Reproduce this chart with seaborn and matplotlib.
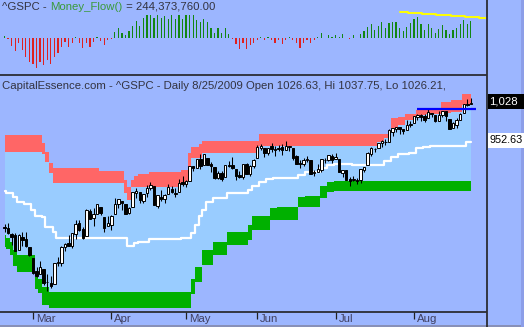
import numpy as np
import pandas as pd
import matplotlib
matplotlib.use("Agg")
import matplotlib.pyplot as plt
import matplotlib.transforms as mtransforms
from matplotlib.lines import Line2D
from matplotlib.patches import Rectangle
import seaborn as sns

# ---------------- data ----------------
holidays = ["2009-04-10", "2009-05-25", "2009-07-03"]
dates = pd.bdate_range("2009-02-18", "2009-08-25").drop(pd.to_datetime(holidays))

opens = [789.17, 787.91, 775.87, 773.25, 744.69, 770.64, 765.76, 749.93, 729.57, 704.44,
         698.60, 708.27, 684.04, 680.76, 679.28, 719.59, 720.89, 751.97, 758.84, 753.88,
         776.01, 797.92, 784.58, 772.31, 820.60, 806.81, 814.06, 828.68, 809.07, 790.88,
         793.59, 814.53, 835.13, 839.75, 834.12, 816.76, 829.29, 855.33, 856.88, 839.44,
         854.54, 865.18, 868.27, 831.25, 847.26, 844.62, 853.91, 862.82, 854.48, 856.85,
         876.59, 872.74, 879.21, 906.10, 903.95, 919.58, 909.03, 922.99, 910.52, 905.40,
         884.24, 892.76, 886.07, 909.67, 908.62, 900.42, 888.68, 887.00, 909.95, 892.96,
         907.02, 923.26, 942.87, 942.51, 932.49, 945.67, 938.12, 940.35, 943.44, 939.04,
         943.44, 942.45, 925.60, 911.89, 910.86, 919.96, 918.13, 893.46, 896.31, 899.45,
         918.84, 919.86, 927.15, 920.82, 921.24, 894.27, 898.60, 881.90, 881.28, 880.03,
         879.57, 900.77, 910.15, 930.17, 940.56, 942.07, 951.97, 953.40, 954.07, 972.16,
         978.63, 981.48, 977.66, 976.01, 986.80, 990.22, 1001.41, 1005.41, 1004.06, 999.83,
         1008.89, 1005.77, 994.00, 1005.86, 1012.23, 998.18, 980.62, 986.88, 996.41, 1009.06,
         1026.59, 1026.63]
highs = [796.17, 797.58, 778.69, 777.85, 775.49, 780.12, 779.42, 751.27, 729.57, 711.67,
         724.12, 708.27, 699.09, 695.27, 719.60, 731.92, 752.63, 758.29, 774.53, 778.12,
         803.04, 803.24, 788.91, 823.37, 823.65, 826.78, 832.98, 828.68, 809.07, 810.48,
         813.62, 845.61, 842.50, 839.75, 834.12, 828.42, 856.91, 864.31, 856.88, 852.93,
         870.35, 875.63, 868.27, 850.09, 861.78, 852.87, 871.80, 868.83, 864.48, 882.06,
         888.70, 880.48, 907.85, 907.70, 920.28, 929.58, 930.17, 922.99, 915.57, 905.40,
         898.36, 896.97, 910.00, 916.39, 924.60, 900.42, 896.65, 911.76, 913.84, 909.45,
         920.02, 947.77, 949.38, 942.51, 942.47, 951.69, 946.33, 946.92, 949.77, 956.23,
         946.30, 942.45, 928.00, 918.44, 921.93, 927.09, 918.13, 898.69, 910.85, 921.42,
         922.00, 927.99, 930.01, 931.92, 921.24, 898.72, 898.60, 886.80, 887.86, 883.57,
         901.05, 905.84, 933.95, 943.96, 941.89, 951.62, 956.53, 959.83, 979.42, 979.79,
         982.49, 982.35, 977.76, 996.68, 993.18, 1003.61, 1007.12, 1006.64, 1008.00, 1018.00,
         1010.12, 1005.77, 1012.78, 1013.14, 1012.60, 998.18, 991.20, 999.61, 1008.92, 1027.59,
         1035.82, 1037.75]
lows = [780.43, 777.03, 754.25, 742.37, 744.69, 752.89, 751.75, 734.52, 699.70, 692.30,
        698.60, 677.93, 666.79, 672.88, 679.28, 713.85, 714.76, 742.46, 753.37, 749.93,
        765.64, 781.82, 766.20, 772.31, 805.48, 791.37, 814.06, 813.43, 779.81, 790.88,
        783.32, 814.53, 826.70, 822.79, 814.53, 814.84, 829.29, 845.35, 836.31, 835.58,
        847.04, 860.87, 832.39, 826.83, 840.57, 835.45, 853.91, 854.65, 847.12, 856.85,
        868.51, 866.10, 879.21, 897.34, 903.95, 901.36, 909.03, 908.68, 896.46, 882.80,
        882.52, 878.94, 886.07, 905.22, 901.37, 879.61, 883.75, 881.46, 891.87, 887.60,
        903.56, 923.26, 938.46, 923.85, 929.32, 934.13, 926.44, 936.15, 927.97, 939.04,
        935.66, 919.65, 911.60, 903.78, 907.94, 915.80, 893.04, 888.86, 896.31, 896.27,
        913.03, 916.18, 912.86, 920.82, 896.42, 886.36, 879.93, 869.32, 878.45, 872.81,
        875.32, 896.50, 910.15, 927.45, 934.65, 940.99, 943.22, 947.75, 953.27, 965.95,
        972.29, 969.35, 968.65, 976.01, 982.85, 990.22, 996.68, 994.31, 992.49, 999.83,
        1000.99, 992.40, 993.36, 1000.82, 994.60, 978.51, 980.62, 980.62, 996.39, 1009.06,
        1022.48, 1026.21]
closes = [788.42, 778.94, 770.05, 743.33, 773.14, 764.90, 752.83, 735.09, 700.82, 696.33,
          712.87, 682.55, 683.38, 676.53, 719.60, 721.36, 750.74, 756.55, 753.89, 778.12,
          794.35, 784.04, 768.54, 822.92, 806.12, 813.88, 832.86, 815.94, 787.53, 797.87,
          811.08, 834.38, 842.50, 835.48, 815.55, 825.16, 856.56, 858.73, 841.50, 852.06,
          865.30, 869.60, 832.39, 850.08, 843.55, 851.92, 866.23, 857.51, 855.16, 873.64,
          872.81, 877.52, 907.24, 903.80, 919.53, 907.39, 929.23, 909.24, 908.35, 883.92,
          893.07, 882.88, 909.71, 908.13, 903.47, 888.33, 887.00, 910.33, 893.06, 906.83,
          919.14, 942.87, 944.74, 931.76, 942.46, 940.09, 939.14, 942.43, 939.15, 944.89,
          946.21, 923.72, 911.97, 910.71, 918.37, 921.23, 893.04, 895.10, 900.94, 920.26,
          918.90, 927.23, 919.32, 923.33, 896.42, 898.72, 881.03, 879.56, 882.68, 879.13,
          901.05, 905.84, 932.68, 940.74, 940.38, 951.13, 954.58, 954.07, 976.29, 979.26,
          982.18, 979.62, 975.15, 986.75, 987.48, 1002.63, 1005.65, 1002.72, 997.08, 1010.48,
          1007.10, 994.35, 1005.81, 1012.73, 1004.09, 979.73, 989.67, 996.46, 1007.37, 1026.13,
          1025.57, 1028.12]

# Money flow (millions), one per trading day
money_flow = [33, -14, -108, -179, -71, -165, -259, -329, -362, -414,
              -329, -376, -306, -367, -259, -212, -118, -47, -118, -71,
              24, -71, -141, -61, -127, -47, 14, -38, -94, -24,
              -9, 94, 141, 80, 47, 108, 174, 244, 174, 282,
              329, 329, 282, 329, 282, 320, 273, 329, 273, 329,
              273, 329, 329, 329, 258, 226, 273, 226, 141, 80,
              141, 80, 141, 61, -5, -85, -150, -61, -150, -94,
              -61, -24, 14, -24, 14, -24, -61, -24, -80, -24,
              14, -24, -61, -132, -70, -24, -61, -24, 14, 70,
              5, 47, 14, 47, 14, 61, 9, -9, 47, 9,
              61, 103, 155, 202, 118, 174, 230, 146, 216, 230,
              230, 146, 103, 160, 216, 273, 301, 202, 118, 202,
              146, 75, 132, 188, 118, 61, 118, 146, 202, 258,
              202, 244]
money_flow_last = "244,373,760.00"

# Channel bands, as (value, number of days) runs
red_top_runs = [(967, 11), (952, 1), (935, 1), (913, 1), (903, 13), (898, 7), (880, 1), (867, 1),
                (880, 1), (888, 1), (892, 3), (896, 9), (900, 2), (932, 1), (944, 2), (949, 1),
                (955, 16), (969, 37), (999, 2), (1002, 2), (1007, 3), (1015, 3), (1018, 4),
                (1031, 3), (1034, 3), (1047, 3)]
red_bot_runs = [(935, 11), (930, 1), (915, 1), (893, 1), (874, 20), (855, 1), (842, 1), (866, 14),
                (870, 2), (906, 1), (922, 3), (932, 16), (946, 33), (954, 2), (961, 2), (980, 2),
                (986, 2), (996, 3), (1005, 3), (1007, 4), (1009, 3), (1012, 3), (1025, 3)]
green_top_runs = [(774, 1), (768, 1), (760, 1), (745, 1), (736, 5), (694, 1), (690, 1), (674, 2),
                  (665, 40), (690, 1), (713, 2), (745, 3), (761, 4), (780, 6), (794, 1), (810, 5),
                  (826, 2), (828, 6), (848, 2), (850, 4), (869, 2), (877, 2), (879, 39)]
green_bot_runs = [(752, 1), (748, 1), (735, 1), (715, 1), (703, 5), (670, 1), (662, 1), (639, 2),
                  (634, 40), (660, 1), (684, 2), (716, 3), (736, 4), (755, 6), (765, 1), (784, 5),
                  (803, 2), (804, 6), (829, 6), (845, 2), (858, 2), (859, 39)]
mid_runs = [(859, 1), (855, 2), (847, 1), (837, 2), (834, 2), (822, 1), (811, 2), (809, 1), (790, 2),
            (780, 1), (768, 20), (753, 2), (758, 1), (761, 3), (766, 9), (768, 3), (778, 1), (793, 1),
            (810, 1), (822, 1), (838, 2), (845, 4), (855, 6), (861, 1), (869, 2), (877, 2), (882, 2),
            (885, 7), (890, 2), (896, 4), (903, 2), (909, 2), (912, 5), (909, 9), (917, 2), (925, 2),
            (930, 3), (932, 2), (941, 2), (943, 2), (946, 10), (952.63, 2)]

# Yellow step line in the money-flow pane (bar index of each step, value in millions)
yellow_idx = [111.1, 113.4, 117.2, 121.2, 125.4, 129.4, 133.3, 135.3]
yellow_val = [367, 353, 338, 324, 310, 296, 282, 282]

# Blue horizontal level
blue_level = 1017
blue_from_idx, blue_to_idx = 116, 132.5

main_title = "CapitalEssence.com - ^GSPC - Daily 8/25/2009 Open 1026.63, Hi 1037.75, Lo 1026.21,"


def expand(runs):
    return np.repeat([v for v, n in runs], [n for v, n in runs]).astype(float)


red_top, red_bot = expand(red_top_runs), expand(red_bot_runs)
green_top, green_bot = expand(green_top_runs), expand(green_bot_runs)
mid_line = expand(mid_runs)

o, h, l, c = map(np.asarray, (opens, highs, lows, closes))
idx = np.arange(len(dates))
mf = np.asarray(money_flow, dtype=float)

# ---------------- style ----------------
BG = "#9CB6FF"
LIGHT = "#99CCFF"
RED_BAND = "#FF6666"
GREEN_BAND = "#00B000"
TXT = "#333340"

sns.set_style("white")
plt.rcParams["font.family"] = ["Liberation Sans", "DejaVu Sans"]
FS = 8.2

W, H = 524, 327
fig = plt.figure(figsize=(W / 100, H / 100), dpi=100)
fig.patch.set_facecolor(BG)

PLOT_R = 486
ax_top = fig.add_axes([0, 1 - 75 / H, PLOT_R / W, 75 / H])
ax = fig.add_axes([0, 1 - 312 / H, PLOT_R / W, 237 / H])
bar_px, first_px = 3.56, 4.5
xlim = (-first_px / bar_px, (PLOT_R - first_px) / bar_px)
for a in (ax_top, ax):
    a.set_facecolor(BG)
    for s in a.spines.values():
        s.set_visible(False)

# ---------------- main pane ----------------
ax.fill_between(idx, red_bot, green_top, step="mid", color=LIGHT, lw=0, zorder=1)
ax.fill_between(idx, red_bot, red_top, step="mid", color=RED_BAND, lw=0, zorder=2)
ax.fill_between(idx, green_bot, green_top, step="mid", color=GREEN_BAND, lw=0, zorder=2)
sns.lineplot(x=idx, y=mid_line, drawstyle="steps-mid", color="white", linewidth=1.6, ax=ax, zorder=3)

up = c >= o
ax.vlines(idx, l, h, color="black", linewidth=0.75, zorder=4)
ax.bar(idx, np.abs(c - o) + 0.6, bottom=np.minimum(o, c) - 0.3, width=0.68,
       color=np.where(up, "white", "black"), edgecolor="black", linewidth=0.7, zorder=5)
ax.hlines(blue_level, blue_from_idx, blue_to_idx, color="#0000FF", linewidth=1.6, zorder=6)

ax.set_xlim(*xlim)
ax.set_ylim(625.7, 1082.7)
ax.set_xlabel("")
ax.set_ylabel("")
ax.set_yticks([])

# month ticks
ser = pd.Series(idx, index=dates)
month_first = ser.groupby([dates.year, dates.month]).first()
month_idx = [i for i in month_first.values if i > 0]
month_lbl = [dates[i].strftime("%b") for i in month_idx]
ax.set_xticks(month_idx)
ax.set_xticklabels([])
ax.tick_params(axis="x", direction="out", length=5, width=0.9, color="#222222", bottom=True)
btrans = mtransforms.blended_transform_factory(ax.transData, ax.transAxes)
off = mtransforms.ScaledTranslation(3 / 100, 0, fig.dpi_scale_trans)
for i, lab in zip(month_idx, month_lbl):
    ax.text(i, -7.5 / 237, lab, transform=btrans + off, ha="left", va="center",
            fontsize=FS, color="#404060", clip_on=False)

ax.text(2 / PLOT_R, 1 - 11 / 237, main_title, transform=ax.transAxes, ha="left", va="center",
        fontsize=FS, color=TXT)

# ---------------- money flow pane ----------------
mf_df = pd.DataFrame({"idx": idx, "mf": mf, "sign": np.where(mf >= 0, "pos", "neg")})
sns.barplot(data=mf_df, x="idx", y="mf", hue="sign", palette={"pos": "#009900", "neg": "#FF0000"},
            native_scale=True, width=0.35, dodge=False, legend=False, errorbar=None,
            linewidth=0, ax=ax_top)
sns.lineplot(x=yellow_idx, y=yellow_val, drawstyle="steps-post", color="#FFFF00", linewidth=1.4,
             ax=ax_top)
ax_top.set_xlim(*xlim)
ax_top.set_ylim(-517, 540)
ax_top.set_xticks([])
ax_top.set_yticks([])
ax_top.set_xlabel("")
ax_top.set_ylabel("")

fig.canvas.draw()
r = fig.canvas.get_renderer()
ty = 1 - 9.5 / 75
x0 = 2.5 / PLOT_R
for txt, col in [("^GSPC - ", TXT), ("Money_Flow()", "#3A9A3A"), (" = " + money_flow_last, TXT)]:
    t = ax_top.text(x0, ty, txt, transform=ax_top.transAxes, ha="left", va="baseline",
                    fontsize=FS, color=col)
    bb = t.get_window_extent(r)
    x0 = ax_top.transAxes.inverted().transform((bb.x1, bb.y0))[0]

# ---------------- frame lines & price labels ----------------
def px_line(x0p, y0p, x1p, y1p, color="#222222", lw=1.2):
    fig.add_artist(Line2D([x0p / W, x1p / W], [1 - y0p / H, 1 - y1p / H], color=color,
                          linewidth=lw, transform=fig.transFigure))

px_line(0, 75.3, PLOT_R, 75.3)
px_line(0, 312.3, PLOT_R, 312.3)
px_line(PLOT_R + 0.5, 0, PLOT_R + 0.5, H)
fig.add_artist(Rectangle((0, 0), 1, 2 / H, transform=fig.transFigure, color="#8890B8", lw=0))
fig.add_artist(Rectangle((1 - 3 / W, 0), 3 / W, 1, transform=fig.transFigure, color="#8C9EE8", lw=0))

ident = mtransforms.IdentityTransform()
for val, text, fc, tc, fs in [(closes[-1], f"{closes[-1]:,.0f}", "black", "white", FS),
                              (mid_line[-1], f"{mid_line[-1]:.2f}", "white", "black", 7.8)]:
    yd = ax.transData.transform((0, val))[1] + 2
    fig.add_artist(Rectangle((PLOT_R + 1.5, yd - 7.5), 40, 15, transform=ident, color=fc, lw=0))
    fig.text((PLOT_R + 3) / W, yd / H, text, ha="left", va="center", fontsize=fs, color=tc)

fig.savefig("out.png", dpi=100, facecolor=BG)
